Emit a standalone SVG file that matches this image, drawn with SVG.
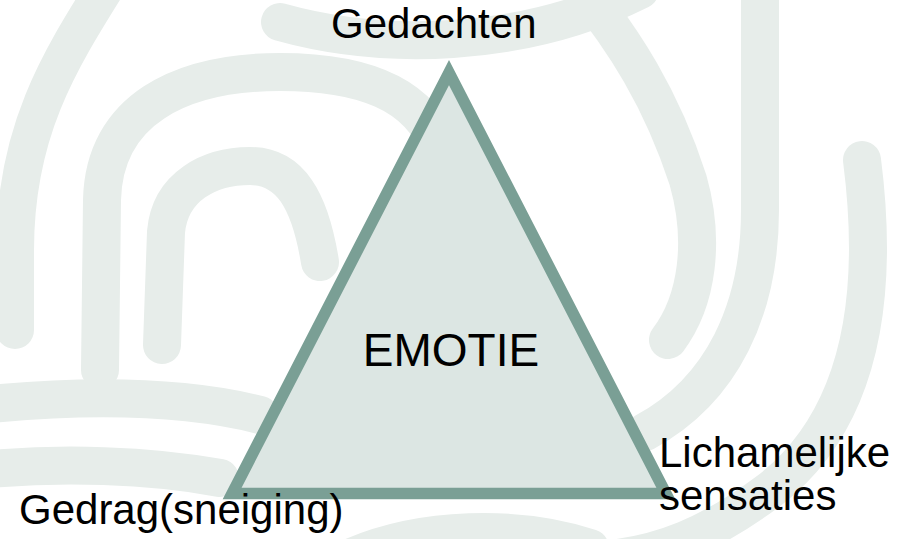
<svg xmlns="http://www.w3.org/2000/svg" width="901" height="539" viewBox="0 0 901 539">
  <style>
    .band { fill: none; stroke: #e7edea; stroke-width: 38; stroke-linecap: round; stroke-linejoin: round; }
    .lbl { font-family: "Liberation Sans", Arial, sans-serif; font-size: 42px; fill: #000000; }
    .big { font-size: 46px; }
    .tri { fill: #dce6e3; stroke: #7a9f95; stroke-width: 11.5; stroke-linejoin: miter; stroke-miterlimit: 10; }
  </style>
  <rect x="0" y="0" width="901" height="539" fill="#ffffff"/>
  <g id="background">
    <path class="band" d="M 110 -20 C 60 60 15 130 15 250 L 15 330"/>
    <path class="band" d="M 100 370 L 102 200 C 104 110 180 72 280 72 C 360 72 420 92 440 150"/>
    <path class="band" d="M 162 345 L 166 232 C 170 186 210 166 250 166 C 290 166 310 200 320 262"/>
    <path class="band" d="M -20 405 C 80 395 180 395 260 415"/>
    <path class="band" d="M -20 470 C 60 462 150 465 220 478"/>
    <path class="band" d="M 280 22 C 380 50 520 50 640 -10"/>
    <path class="band" d="M 575 -20 C 625 40 662 100 688 180 C 705 240 698 300 668 340"/>
    <path class="band" d="M 760 -20 L 760 210 C 760 310 722 390 645 432"/>
    <path class="band" d="M 862 160 C 880 300 860 420 770 490 C 710 535 660 555 600 560"/>
    <path class="band" d="M 345 560 C 420 525 520 525 590 548"/>
  </g>
  <g id="node-emotie">
    <polygon class="tri" points="449,72.6 232.1,493.5 665.9,493.5"/>
    <text class="lbl big" x="451" y="366" text-anchor="middle">EMOTIE</text>
  </g>
  <g id="node-gedachten">
    <text class="lbl" x="331" y="38">Gedachten</text>
  </g>
  <g id="node-lichamelijke">
    <text class="lbl" x="659" y="467">Lichamelijke</text>
    <text class="lbl" x="659" y="510">sensaties</text>
  </g>
  <g id="node-gedrag">
    <text class="lbl" x="19" y="524">Gedrag(sneiging)</text>
  </g>
  <g id="connectors"></g>
</svg>
